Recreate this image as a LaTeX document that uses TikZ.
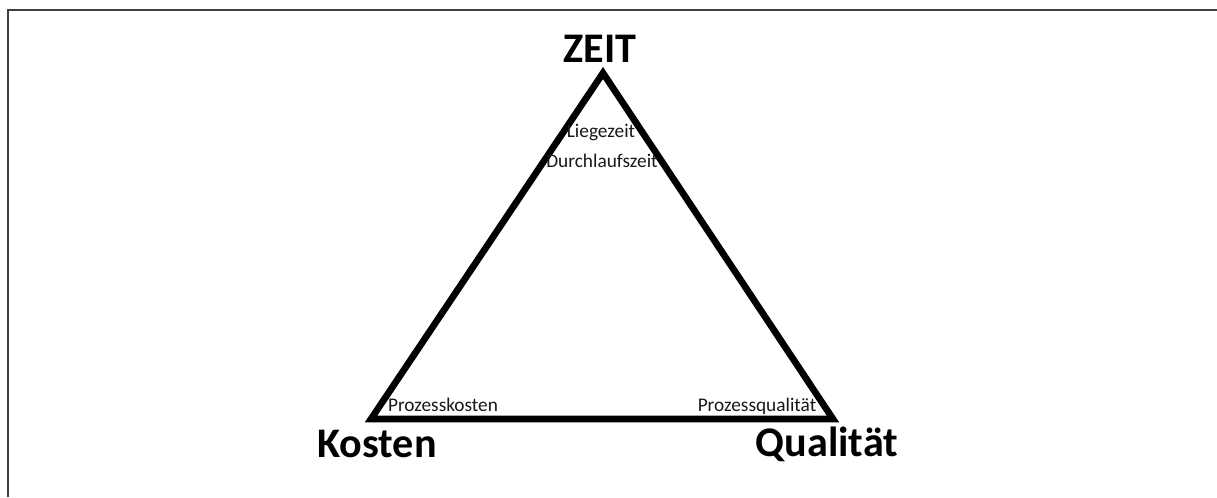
\documentclass[tikz,border=0pt]{standalone}
\usepackage{fontspec}
\setmainfont{Carlito}
\usetikzlibrary{positioning}

\begin{document}
\begin{tikzpicture}[
  x=0.02cm,y=-0.02cm,
  corner/.style={font=\bfseries\fontsize{24}{26}\selectfont,anchor=base,inner sep=0pt},
  aspect/.style={font=\fontsize{11}{12}\selectfont,anchor=base,inner sep=0pt,text=black!90},
  edge/.style={line width=3.8pt},
  frame/.style={draw=black!75,line width=1.1pt}
]
\useasboundingbox (0,0) rectangle (1217,497);
\draw[frame] (8,497) -- (8,10) -- (1217,10);

% triangle corners
\coordinate (top) at (603,73);
\coordinate (left) at (371,419);
\coordinate (right) at (833,419);
\draw[edge] (left) -- (top) -- (right) -- cycle;

% main goals
\node[corner] (zeit) at (600,62) {ZEIT};
\node[corner] (kosten) at (377,457) {Kosten};
\node[corner] (qualitaet) at (827,456) {Qualität};

% measures
\node[aspect] (liegezeit) at (601,137) {Liegezeit};
\node[aspect] (dlz) at (602,167) {Durchlaufszeit};
\node[aspect] (pkosten) at (443,411) {Prozesskosten};
\node[aspect] (pqualitaet) at (757,411) {Prozessqualität};
\end{tikzpicture}
\end{document}
